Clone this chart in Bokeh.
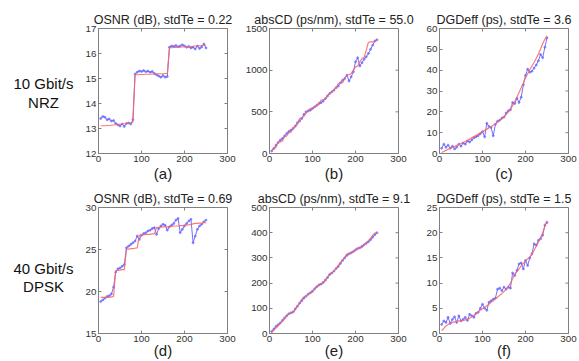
import math
from bokeh.plotting import figure
from bokeh.layouts import column, row
from bokeh.models import FixedTicker, Range1d
from bokeh.core.properties import value
from bokeh.embed import file_html
from bokeh.resources import INLINE

# ---------------- data ----------------
x_vals = list(range(5, 255, 5))
x_ticks = [0, 100, 200, 300]

titles = ["OSNR (dB), stdTe = 0.22", "absCD (ps/nm), stdTe = 55.0", "DGDeff (ps), stdTe = 3.6",
          "OSNR (dB), stdTe = 0.69", "absCD (ps/nm), stdTe = 9.1", "DGDeff (ps), stdTe = 1.5"]
panel_labels = ["(a)", "(b)", "(c)", "(d)", "(e)", "(f)"]
row_labels_1 = ["10 Gbit/s", "NRZ"]
row_labels_2 = ["40 Gbit/s", "DPSK"]

a_true = [13.10, 13.11, 13.11, 13.12, 13.12, 13.13, 13.14, 13.15, 13.16, 13.17, 13.18, 13.19, 13.20, 13.21, 13.22, 13.25,
          15.15, 15.15, 15.16, 15.16, 15.16, 15.17, 15.17, 15.17, 15.18, 15.18, 15.18, 15.19, 15.19, 15.19, 15.20, 15.20,
          16.22, 16.23, 16.24, 16.24, 16.25, 16.25, 16.26, 16.27, 16.27, 16.28, 16.28, 16.29, 16.30, 16.30, 16.31, 16.32, 16.33, 16.34]
a_est = [13.40, 13.48, 13.45, 13.35, 13.38, 13.30, 13.32, 13.20, 13.15, 13.10, 13.18, 13.08, 13.20, 13.22, 13.18, 13.35,
         15.18, 15.25, 15.30, 15.28, 15.32, 15.27, 15.30, 15.25, 15.28, 15.20, 15.15, 15.10, 15.05, 15.12, 15.05, 15.08,
         16.25, 16.30, 16.28, 16.32, 16.27, 16.30, 16.35, 16.30, 16.25, 16.28, 16.22, 16.25, 16.18, 16.30, 16.20, 16.26, 16.38, 16.22]

b_true = [25, 70, 70, 140, 140, 150, 200, 210, 250, 255, 310, 320, 350, 420, 430, 445, 480, 520, 540, 545,
          560, 570, 600, 640, 645, 650, 700, 720, 740, 770, 790, 840, 845, 850, 900, 940, 945, 960, 1000, 1040,
          1050, 1100, 1140, 1150, 1240, 1335, 1340, 1340, 1345, 1360]
b_est = [30, 60, 100, 130, 160, 180, 210, 240, 265, 280, 300, 330, 370, 390, 420, 470, 500, 510, 520, 540,
         560, 580, 600, 610, 630, 660, 690, 720, 740, 760, 790, 810, 850, 880, 900, 940, 870, 920, 980, 1100,
         1150, 1050, 1090, 1130, 1160, 1200, 1250, 1300, 1350, 1365]

c_true = [0.5, 1.0, 1.5, 2.0, 2.5, 3.0, 3.4, 3.9, 4.3, 4.8, 5.3, 5.8, 6.3, 6.9, 7.5, 8.1, 8.7, 9.3, 9.9, 10.5,
          11.1, 11.7, 12.3, 12.9, 13.6, 14.3, 15.0, 15.8, 16.6, 17.5, 18.7, 20.0, 21.4, 23.0, 24.8, 27.0, 29.3, 31.6, 33.9, 36.2,
          38.3, 40.2, 42.0, 43.8, 45.7, 47.8, 50.2, 52.8, 54.8, 56.5]
c_est = [2.5, 4.5, 3.0, 4.0, 2.5, 3.5, 2.2, 3.0, 4.5, 3.5, 5.0, 4.5, 6.0, 5.5, 6.5, 7.5, 8.0, 8.5, 9.5, 10.5,
         8.0, 14.5, 13.0, 12.5, 8.5, 14.0, 15.5, 16.0, 17.0, 17.5, 19.5, 20.5, 21.0, 24.5, 24.0, 26.5, 24.5, 27.0, 33.0, 37.5,
         40.5, 39.0, 39.5, 41.0, 42.5, 44.5, 47.5, 46.0, 51.0, 55.5]

d_true = [19.3, 19.3, 19.3, 19.3, 19.3, 19.35, 19.4, 22.5, 22.5, 22.55, 22.6, 22.6, 25.0, 25.05, 25.1, 25.1, 25.15, 25.2, 26.7, 26.75,
          26.75, 26.8, 26.8, 26.8, 26.85, 26.85, 27.6, 27.65, 27.65, 27.7, 27.7, 27.7, 27.75, 27.75, 27.8, 27.8, 27.8, 27.85, 27.85, 27.9,
          27.9, 27.95, 28.0, 28.05, 28.1, 28.1, 28.15, 28.15, 28.2, 28.2]
d_est = [18.8, 19.0, 19.2, 19.4, 19.5, 19.7, 20.5, 22.3, 22.7, 22.8, 23.0, 23.2, 25.2, 25.4, 25.6, 25.8, 26.0, 26.6, 26.2, 26.7,
         26.9, 27.0, 27.2, 27.3, 27.5, 27.6, 26.8, 27.5, 27.8, 28.0, 27.9, 27.3, 27.7, 27.9, 28.1, 28.5, 28.7, 27.0, 27.4, 27.8,
         28.1, 28.4, 28.6, 25.8, 26.6, 27.4, 27.8, 28.0, 28.3, 28.5]

e_true = [5, 13, 22, 30, 40, 48, 58, 72, 80, 81, 83, 95, 110, 122, 135, 145, 150, 155, 160, 166,
          175, 185, 195, 198, 200, 210, 225, 237, 242, 246, 258, 270, 282, 292, 302, 315, 318, 322, 326, 330,
          336, 340, 342, 352, 360, 368, 378, 390, 398, 402]
e_est = [8, 18, 28, 35, 42, 52, 62, 70, 78, 82, 86, 98, 108, 120, 130, 140, 148, 156, 162, 168,
         178, 186, 192, 196, 203, 212, 222, 234, 240, 248, 258, 266, 278, 290, 300, 310, 316, 320, 325, 332,
         337, 340, 346, 352, 358, 364, 372, 382, 392, 400]

f_true = [0.5, 1.0, 1.5, 1.8, 2.0, 2.2, 2.3, 2.4, 2.5, 2.5, 2.6, 2.7, 2.8, 3.0, 3.3, 3.6, 4.0, 4.3, 4.6, 4.9,
          5.2, 5.5, 5.8, 6.2, 6.5, 6.9, 7.2, 7.6, 7.9, 8.3, 8.8, 9.3, 10.0, 10.8, 11.8, 12.3, 12.8, 13.4, 13.9, 14.4,
          14.8, 15.2, 15.8, 16.5, 17.3, 18.1, 19.0, 20.0, 21.2, 22.4]
f_est = [1.8, 2.5, 2.2, 3.2, 2.0, 2.8, 3.3, 2.2, 3.5, 2.5, 2.8, 3.2, 2.6, 3.8, 3.5, 3.2, 4.0, 4.2, 5.0, 5.8,
         5.0, 4.6, 6.2, 6.5, 6.8, 7.0, 8.8, 9.0, 8.5, 9.2, 8.8, 9.2, 9.0, 12.0, 11.5, 12.5, 13.8, 14.0, 12.8, 14.5,
         13.5, 15.0, 15.8, 17.8, 17.5, 18.5, 18.8, 19.5, 21.5, 22.0]

a_yticks = [12, 13, 14, 15, 16, 17]
b_yticks = [0, 500, 1000, 1500]
c_yticks = [0, 10, 20, 30, 40, 50, 60]
d_yticks = [15, 20, 25, 30]
e_yticks = [0, 100, 200, 300, 400, 500]
f_yticks = [0, 5, 10, 15, 20, 25]

# ---------------- style ----------------
FONT = "Liberation Sans"
FRAME = "#808080"
TXT = "#333333"
BLUE = "#6262ff"
RED = "#ff6262"
FW = 129


def style_axis(ax):
    ax.axis_line_color = FRAME
    ax.major_tick_line_color = FRAME
    ax.major_tick_in = 3
    ax.major_tick_out = 0
    ax.minor_tick_in = 0
    ax.minor_tick_out = 0
    ax.major_label_text_font = FONT
    ax.major_label_text_color = TXT
    ax.major_label_text_font_size = "9.8px"
    ax.major_label_standoff = 2


def panel(title, label, est, true, yticks, left, right, top, bottom, fh, lab_standoff):
    p = figure(frame_width=FW, frame_height=fh,
               min_border_left=left, min_border_right=right,
               min_border_top=top, min_border_bottom=bottom,
               x_range=Range1d(0, 300), y_range=Range1d(yticks[0], yticks[-1]),
               output_backend="svg", toolbar_location=None, title=title)
    p.grid.visible = False
    p.outline_line_color = FRAME
    p.background_fill_color = "white"
    p.border_fill_color = "white"
    p.title.text_font = FONT
    p.title.text_font_size = "12.5px"
    p.title.text_font_style = "normal"
    p.title.text_color = "#222222"
    p.title.align = "center"
    p.title.standoff = 4

    p.xaxis.ticker = FixedTicker(ticks=x_ticks)
    p.yaxis.ticker = FixedTicker(ticks=yticks)
    for ax in p.xaxis + p.yaxis:
        style_axis(ax)
    p.xaxis.axis_label = label
    p.xaxis.axis_label_text_font = FONT
    p.xaxis.axis_label_text_font_size = "15px"
    p.xaxis.axis_label_text_font_style = "normal"
    p.xaxis.axis_label_text_color = "#222222"
    p.xaxis.axis_label_standoff = lab_standoff

    # inward tick marks on the top and right edges of the box
    p.ray(x=x_ticks, y=[yticks[-1]] * len(x_ticks), length=3, length_units="screen",
          angle=-math.pi / 2, line_color=FRAME, line_width=1)
    p.ray(x=[300] * len(yticks), y=yticks, length=3, length_units="screen",
          angle=math.pi, line_color=FRAME, line_width=1)

    p.line(x_vals, est, line_color=BLUE, line_width=1.0, line_alpha=0.9)
    p.scatter(x_vals, est, size=2, color=BLUE, alpha=0.6)
    p.line(x_vals, true, line_color=RED, line_width=1.2, line_alpha=0.85)
    return p


def label_fig(texts, ys, width, top, bottom, fh):
    p = figure(frame_width=width, frame_height=fh, min_border_left=0, min_border_right=0,
               min_border_top=top, min_border_bottom=bottom,
               x_range=Range1d(0, 1), y_range=Range1d(0, 1),
               x_axis_location=None, y_axis_location=None,
               output_backend="svg", toolbar_location=None)
    p.grid.visible = False
    p.outline_line_color = None
    p.text(x=[0.566] * len(texts), y=ys, text=texts, text_font=value(FONT),
           text_font_size=value("15px"), text_color="#111111",
           text_align="center", text_baseline="middle")
    return p


T1, H1, B1 = 28, 125, 33
T2, H2, B2 = 21, 126, 27

lab1 = label_fig(row_labels_1, [0.56, 0.408], 76, T1, B1, H1)
pa = panel(titles[0], panel_labels[0], a_est, a_true, a_yticks, 22, 12, T1, B1, H1, 0)
pb = panel(titles[1], panel_labels[1], b_est, b_true, b_yticks, 30, 17, T1, B1, H1, 0)
pc = panel(titles[2], panel_labels[2], c_est, c_true, c_yticks, 24, 10, T1, B1, H1, 0)

lab2 = label_fig(row_labels_2, [0.516, 0.373], 76, T2, B2, H2)
pd = panel(titles[3], panel_labels[3], d_est, d_true, d_yticks, 22, 12, T2, B2, H2, -3)
pe = panel(titles[4], panel_labels[4], e_est, e_true, e_yticks, 30, 17, T2, B2, H2, -3)
pf = panel(titles[5], panel_labels[5], f_est, f_true, f_yticks, 24, 10, T2, B2, H2, -3)

layout = column(row(lab1, pa, pb, pc), row(lab2, pd, pe, pf))

open("out.html", "w").write(file_html(layout, INLINE))
